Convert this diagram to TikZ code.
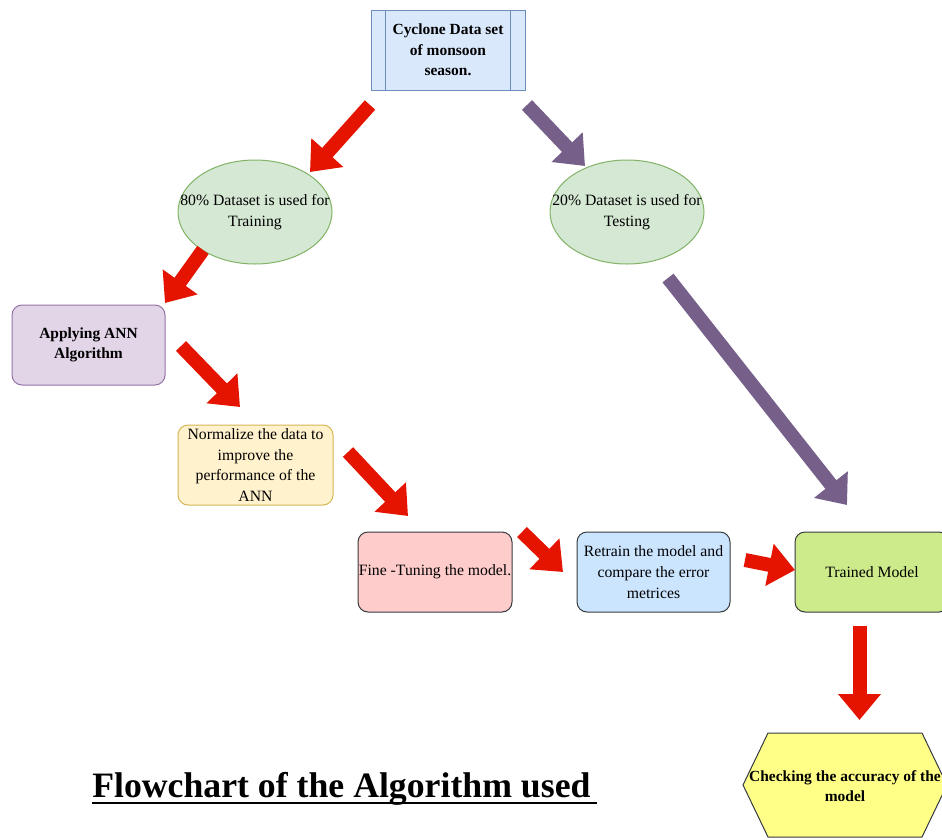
\documentclass[tikz,border=0pt]{standalone}
\usepackage{fontspec}
\setmainfont{Liberation Serif}
\usetikzlibrary{arrows.meta,shapes.geometric,calc}
\definecolor{bluF}{HTML}{DAE8FC}
\definecolor{bluS}{HTML}{6C8EBF}
\definecolor{grnF}{HTML}{D5E8D4}
\definecolor{grnS}{HTML}{82B366}
\definecolor{purF}{HTML}{E1D5E7}
\definecolor{purS}{HTML}{9673A6}
\definecolor{yelF}{HTML}{FFF2CC}
\definecolor{yelS}{HTML}{D6B656}
\definecolor{pnkF}{HTML}{FFCCCC}
\definecolor{lbF}{HTML}{CCE5FF}
\definecolor{lgF}{HTML}{CDEB8B}
\definecolor{hexF}{HTML}{FFFF88}
\definecolor{darkS}{HTML}{36393D}
\definecolor{arrRed}{HTML}{E51400}
\definecolor{arrPur}{HTML}{76608A}
\begin{document}
\begin{tikzpicture}[x=0.75pt,y=-0.75pt,
  txt/.style={font=\fontsize{11.8}{15.5}\selectfont},
  btxt/.style={font=\fontsize{11.6}{15.3}\selectfont\bfseries},
  box/.style={rectangle, rounded corners=7.5pt, draw, line width=0.75pt,
    minimum width=115.5pt, minimum height=60pt, align=center, inner sep=0.5pt},
  oval/.style={ellipse, draw=grnS, fill=grnF, line width=0.75pt,
    minimum width=115.5pt, minimum height=78pt, inner sep=0pt},
  bigarrow/.style={line width=10.5pt, -{Triangle[length=19.5pt,width=31pt]}},
  redarrow/.style={bigarrow, draw=arrRed},
  purarrow/.style={bigarrow, draw=arrPur}]
\useasboundingbox[fill=white] (0,0) rectangle (942,839);

% top data node (predefined process)
\node[rectangle, draw=bluS, fill=bluF, line width=0.75pt, minimum width=115.5pt,
  minimum height=60pt, align=center, inner sep=0.5pt, btxt] (data) at (448,50)
  {Cyclone Data set\\of monsoon\\season.};
\draw[bluS, line width=0.75pt] ($(data.north west)+(15,0)$) -- ($(data.south west)+(15,0)$);
\draw[bluS, line width=0.75pt] ($(data.north east)+(-15,0)$) -- ($(data.south east)+(-15,0)$);

% ellipses
\node[oval] (train) at (255,212) {};
\node[txt, align=center, inner sep=0pt] (traintxt) at (train.center) {80\% Dataset is used for\\Training};
\node[oval] (test) at (627,212) {};
\node[txt, align=center, inner sep=0pt] (testtxt) at (test.center) {20\% Dataset is used for\\Testing};

% process boxes
\node[box, draw=purS, fill=purF, btxt, minimum width=114.75pt] (ann) at (88.5,345) {Applying ANN\\Algorithm};
\node[box, draw=yelS, fill=yelF, txt, minimum width=116.25pt] (norm) at (255.5,465)
  {Normalize the data to\\improve the\\performance of the\\ANN};
\node[box, draw=darkS, fill=pnkF, txt] (fine) at (435,572) {Fine -Tuning the model.};
\node[box, draw=darkS, fill=lbF, txt, minimum width=114.75pt] (retrain) at (653.5,572)
  {Retrain the model and\\compare the error\\metrices};
\node[box, draw=darkS, fill=lgF, txt] (trained) at (872,572) {Trained Model};

% hexagon
\coordinate (hexc) at (845,786);
\draw[darkS, fill=hexF, line width=0.75pt] (743,785) -- (768,733) -- (922,733)
  -- (947,785) -- (922,837) -- (768,837) -- cycle;
\node[btxt, align=center, inner sep=0pt] (check) at (hexc) {Checking the accuracy of the\\model};

% arrow end points
\coordinate (a1s) at (370,105); \coordinate (a1e) at (310,172);
\coordinate (a2s) at (527,105); \coordinate (a2e) at (585,166);
\coordinate (a3s) at (203,250); \coordinate (a3e) at (165,303);
\coordinate (a4s) at (181,346); \coordinate (a4e) at (240,407);
\coordinate (a5s) at (348,452); \coordinate (a5e) at (408,516);
\coordinate (a6s) at (522,532); \coordinate (a6e) at (563,572);
\coordinate (a7s) at (745,560); \coordinate (a7e) at (795,570);
\coordinate (a8s) at (668,278); \coordinate (a8e) at (847,505);
\coordinate (a9s) at (859.5,626); \coordinate (a9e) at (859.5,720);

\draw[redarrow] (a1s) -- (a1e);
\draw[purarrow] (a2s) -- (a2e);
\draw[redarrow] (a3s) -- (a3e);
\draw[redarrow] (a4s) -- (a4e);
\draw[redarrow] (a5s) -- (a5e);
\draw[redarrow] (a6s) -- (a6e);
\draw[redarrow] (a7s) -- (a7e);
\draw[purarrow] (a8s) -- (a8e);
\draw[redarrow] (a9s) -- (a9e);

% title
\node[anchor=base west, inner sep=0pt, font=\fontsize{26.8}{30}\selectfont\bfseries] (title) at (92,797)
  {Flowchart of the Algorithm used};
\draw[line width=1.6pt] ($(title.base west)+(0,6)$) -- ++(505,0);
\end{tikzpicture}
\end{document}
